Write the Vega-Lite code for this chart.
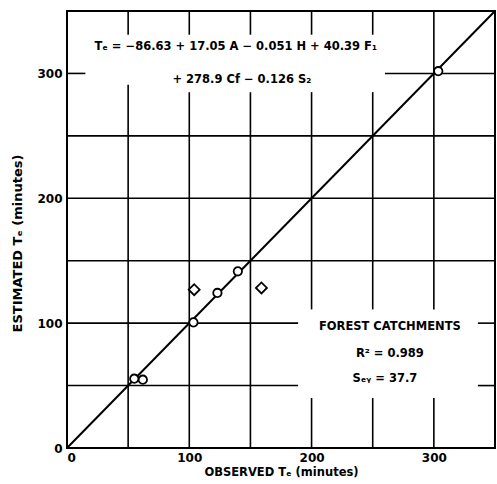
{
  "$schema": "https://vega.github.io/schema/vega-lite/v6.json",
  "width": 428,
  "height": 437,
  "autosize": {"type": "none"},
  "padding": {"left": 67, "top": 11, "right": 2, "bottom": 36},
  "background": "white",
  "config": {
    "view": {"stroke": "black", "strokeWidth": 2},
    "font": "DejaVu Sans"
  },
  "datasets": {
    "grid": [
      {"x": 50, "y": 0, "x2": 50, "y2": 291},
      {"x": 50, "y": 331, "x2": 50, "y2": 350},
      {"x": 100, "y": 0, "x2": 100, "y2": 285},
      {"x": 100, "y": 331, "x2": 100, "y2": 350},
      {"x": 150, "y": 0, "x2": 150, "y2": 285},
      {"x": 150, "y": 331, "x2": 150, "y2": 350},
      {"x": 200, "y": 0, "x2": 200, "y2": 40},
      {"x": 200, "y": 111, "x2": 200, "y2": 285},
      {"x": 200, "y": 331, "x2": 200, "y2": 350},
      {"x": 250, "y": 0, "x2": 250, "y2": 40},
      {"x": 250, "y": 111, "x2": 250, "y2": 285},
      {"x": 250, "y": 331, "x2": 250, "y2": 350},
      {"x": 300, "y": 0, "x2": 300, "y2": 40},
      {"x": 300, "y": 111, "x2": 300, "y2": 350},
      {"x": 0, "y": 50, "x2": 189, "y2": 50},
      {"x": 336, "y": 50, "x2": 350, "y2": 50},
      {"x": 0, "y": 100, "x2": 189, "y2": 100},
      {"x": 336, "y": 100, "x2": 350, "y2": 100},
      {"x": 0, "y": 150, "x2": 350, "y2": 150},
      {"x": 0, "y": 200, "x2": 350, "y2": 200},
      {"x": 0, "y": 250, "x2": 350, "y2": 250},
      {"x": 0, "y": 300, "x2": 15, "y2": 300},
      {"x": 260, "y": 300, "x2": 350, "y2": 300}
    ],
    "diag": [
      {"x": 0, "y": 0, "x2": 350, "y2": 350}
    ],
    "points": [
      {"x": 55, "y": 55.5, "kind": "circle"},
      {"x": 62, "y": 54.7, "kind": "circle"},
      {"x": 103.4, "y": 100.6, "kind": "circle"},
      {"x": 104, "y": 126.8, "kind": "diamond"},
      {"x": 123, "y": 124.2, "kind": "circle"},
      {"x": 139.7, "y": 141.5, "kind": "circle"},
      {"x": 159, "y": 128.2, "kind": "diamond"},
      {"x": 303.6, "y": 301.8, "kind": "circle"}
    ],
    "labels": [
      {"x": 138, "y": 320.8, "label": "Tₑ = −86.63 + 17.05 A − 0.051 H + 40.39 F₁"},
      {"x": 143, "y": 295, "label": "+ 278.9 Cf − 0.126 S₂"},
      {"x": 264, "y": 97, "label": "FOREST  CATCHMENTS"},
      {"x": 264, "y": 75, "label": "R² = 0.989"},
      {"x": 260, "y": 55, "label": "Sₑᵧ = 37.7"}
    ]
  },
  "encoding": {
    "x": {
      "field": "x",
      "type": "quantitative",
      "scale": {"domain": [0, 350], "nice": false, "zero": true},
      "axis": {
        "title": "OBSERVED Tₑ (minutes)",
        "values": [0, 100, 200, 300],
        "grid": false,
        "domain": false,
        "ticks": false,
        "labelPadding": 4,
        "labelFontSize": 12,
        "labelColor": "black",
        "labelFontWeight": "bold",
        "titleFontSize": 11.5,
        "titleColor": "black",
        "titleFontWeight": "bold",
        "titlePadding": 3
      }
    },
    "y": {
      "field": "y",
      "type": "quantitative",
      "scale": {"domain": [0, 350], "nice": false, "zero": true},
      "axis": {
        "title": "ESTIMATED Tₑ (minutes)",
        "values": [0, 100, 200, 300],
        "grid": false,
        "domain": false,
        "ticks": false,
        "labelPadding": 5,
        "labelFontSize": 12,
        "labelColor": "black",
        "labelFontWeight": "bold",
        "titleFontSize": 13,
        "titleColor": "black",
        "titleFontWeight": "bold",
        "titlePadding": 12,
        "titleY": 232
      }
    }
  },
  "layer": [
    {
      "data": {"name": "grid"},
      "mark": {"type": "rule", "color": "black", "strokeWidth": 1.6},
      "encoding": {"x2": {"field": "x2"}, "y2": {"field": "y2"}}
    },
    {
      "data": {"name": "diag"},
      "mark": {"type": "rule", "color": "black", "strokeWidth": 2},
      "encoding": {"x2": {"field": "x2"}, "y2": {"field": "y2"}}
    },
    {
      "data": {"name": "points"},
      "mark": {"type": "point", "filled": false, "fill": "white", "fillOpacity": 1, "stroke": "black", "strokeWidth": 1.8, "opacity": 1},
      "encoding": {
        "shape": {"field": "kind", "type": "nominal", "scale": {"domain": ["circle", "diamond"], "range": ["circle", "diamond"]}, "legend": null},
        "size": {"field": "kind", "type": "nominal", "scale": {"domain": ["circle", "diamond"], "range": [70, 120]}, "legend": null}
      }
    },
    {
      "data": {"name": "labels"},
      "mark": {"type": "text", "align": "center", "baseline": "middle", "fontSize": 11.5, "fontWeight": "bold", "color": "black", "font": "DejaVu Sans"},
      "encoding": {"text": {"field": "label"}}
    }
  ]
}
